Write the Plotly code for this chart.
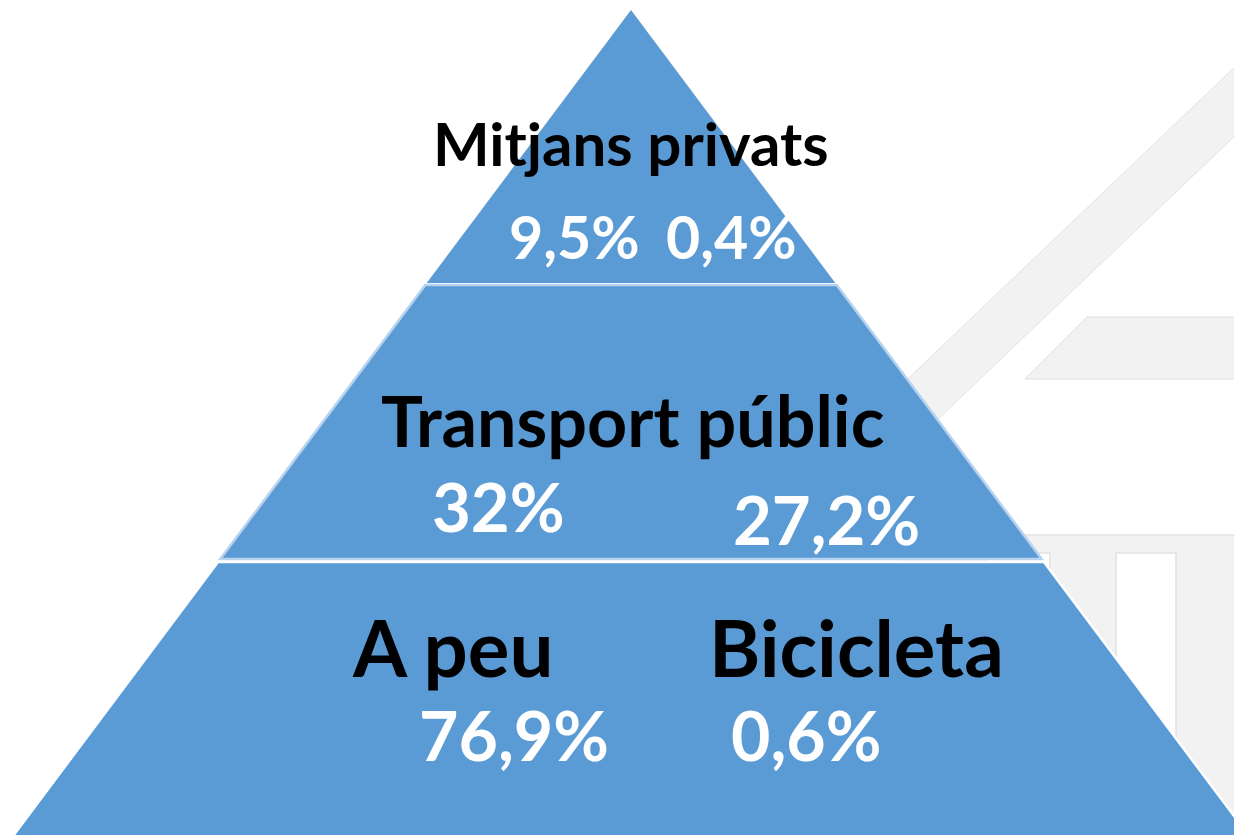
import plotly.graph_objects as go

# ---- data ----
tier_titles = ["Mitjans privats", "Transport públic"]
bottom_labels = ["A peu", "Bicicleta"]
left_values = ["9,5%", "32%", "76,9%"]
right_values = ["0,4%", "27,2%", "0,6%"]

W, H = 1234, 835
BLUE = "#5b9bd5"
GRAY = "#f2f2f2"
EDGE = "#e2e2e2"
FONT = "Lato"

apex_x, apex_y = 631, 10
slope = 205 / 274.0  # horizontal spread per px of height


def edge_x(y, side):
    return apex_x + side * slope * (y - apex_y)


shapes = []

# background decoration (light grey house)
def poly(pts, fill, line_color=None, lw=0):
    p = "M " + " L ".join(f"{x},{y}" for x, y in pts) + " Z"
    shapes.append(dict(type="path", path=p, xref="x", yref="y", fillcolor=fill,
                       line=dict(color=line_color or fill, width=lw), layer="below"))

poly([(1240, 62), (1240, 131), (870, 484), (830, 453)], GRAY, EDGE, 1)
poly([(1087, 317), (1240, 317), (1240, 379), (1025, 379)], GRAY, EDGE, 1)
poly([(900, 535), (1240, 535), (1240, 840), (900, 840)], GRAY, EDGE, 1.5)
poly([(985, 553), (1050, 553), (1050, 840), (985, 840)], "#ffffff", EDGE, 1.5)
poly([(1116, 553), (1176, 553), (1176, 840), (1116, 840)], "#ffffff", EDGE, 1.5)

# pyramid tiers
tiers = [(apex_y, 283, None, 0), (285, 559, "#b7d2ee", 2.5), (562, 845, "#ffffff", 2.5)]
for y0, y1, lc, lw in tiers:
    if y0 == apex_y:
        pts = [(apex_x, y0), (edge_x(y1, 1), y1), (edge_x(y1, -1), y1)]
    else:
        pts = [(edge_x(y0, -1), y0), (edge_x(y0, 1), y0), (edge_x(y1, 1), y1), (edge_x(y1, -1), y1)]
    p = "M " + " L ".join(f"{x:.1f},{y:.1f}" for x, y in pts) + " Z"
    shapes.append(dict(type="path", path=p, xref="x", yref="y", fillcolor=BLUE,
                       line=dict(color=lc or BLUE, width=lw), layer="above"))

ann = []


def label(text, x, y, size, color):
    ann.append(dict(text=f"<b>{text}</b>", x=x, y=y, xref="x", yref="y", showarrow=False,
                    xanchor="center", yanchor="middle",
                    font=dict(family=FONT, size=size, color=color)))


label(tier_titles[0], 631, 143, 60, "black")
label(tier_titles[1], 632, 420, 70, "black")
label(bottom_labels[0], 452, 647, 78, "black")
label(bottom_labels[1], 856, 647, 78, "black")

lv_pos = [(574, 236, 59), (498, 506, 67), (514, 734, 68)]
rv_pos = [(731, 236, 59), (826, 519, 67), (806, 734, 68)]
for v, (x, y, s) in zip(left_values, lv_pos):
    label(v, x, y, s, "white")
for v, (x, y, s) in zip(right_values, rv_pos):
    label(v, x, y, s, "white")

fig = go.Figure()
fig.add_trace(go.Scatter(x=[0, W], y=[0, H], mode="markers", marker=dict(opacity=0),
                         hoverinfo="skip", showlegend=False))
fig.update_layout(
    width=W, height=H, margin=dict(l=0, r=0, t=0, b=0),
    paper_bgcolor="white", plot_bgcolor="white",
    xaxis=dict(range=[0, W], visible=False, fixedrange=True),
    yaxis=dict(range=[H, 0], visible=False, fixedrange=True),
    shapes=shapes, annotations=ann, showlegend=False,
)
fig.write_html("out.html", config={"displayModeBar": False},
               post_script="document.body.style.margin='0';document.body.style.overflow='hidden';")
